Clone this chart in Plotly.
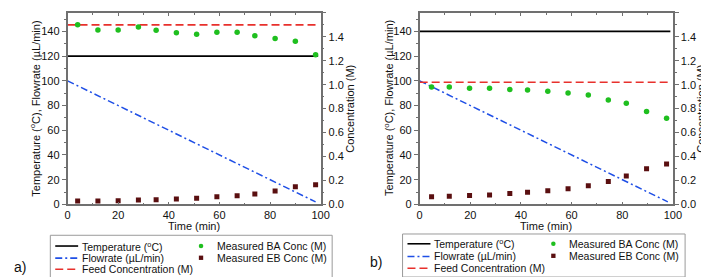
import plotly.graph_objects as go

W, H = 709, 277

# ---------------- data ----------------
time_pts_a = [4, 12, 20, 28, 35, 43, 51, 59, 67, 74, 82, 90, 98]
ba_conc_a = [1.50, 1.457, 1.457, 1.482, 1.454, 1.435, 1.422, 1.438, 1.438, 1.408, 1.386, 1.364, 1.25]
eb_conc_a = [0.028, 0.028, 0.030, 0.036, 0.038, 0.044, 0.052, 0.063, 0.071, 0.087, 0.112, 0.147, 0.163]

time_pts_b = [4.7, 11.7, 19.7, 27.6, 35.6, 42.6, 50.6, 58.6, 66.6, 74.5, 81.6, 89.6, 97.5]
ba_conc_b = [0.98, 0.98, 0.97, 0.97, 0.96, 0.956, 0.945, 0.931, 0.913, 0.872, 0.845, 0.776, 0.719]
eb_conc_b = [0.063, 0.068, 0.074, 0.079, 0.090, 0.101, 0.114, 0.131, 0.155, 0.191, 0.237, 0.297, 0.338]

temp_time = [0, 99]
temp_a = [120, 120]
temp_b = [140, 140]

flow_time = [0, 98]
flowrate = [100, 2]

feed_time = [0, 99.5]
feed_a = [1.5, 1.5]
feed_b = [1.02, 1.02]

series_names = ["Temperature (<sup>o</sup>C)", "Flowrate (\u00b5L/min)", "Feed Concentration (M)",
                "Measured BA Conc (M)", "Measured EB Conc (M)"]
axis_titles = ["Time (min)", "Temperature (<sup>o</sup>C), Flowrate (\u00b5L/min)", "Concentration (M)"]
panel_labels = ["a)", "b)"]

# ---------------- styles ----------------
FONT = "Arial, Liberation Sans, sans-serif"
C_TEMP = "#000000"
C_FLOW = "#1f4fe6"
C_FEED = "#e8302c"
C_BA = "#1fbf1f"
C_EB = "#5a0f10"
AX = "#707070"
DASH_FLOW = "7px,3px,2px,3px"
DASH_FEED = "8px,4px"


def px(x):
    return x / W


def py(y):
    return 1 - y / H


fig = go.Figure()

panels = [
    dict(x="x", yl="y", yr="y2", temp=temp_a, feed=feed_a, t=time_pts_a, ba=ba_conc_a, eb=eb_conc_a),
    dict(x="x2", yl="y3", yr="y4", temp=temp_b, feed=feed_b, t=time_pts_b, ba=ba_conc_b, eb=eb_conc_b),
]

for p in panels:
    fig.add_trace(go.Scatter(x=temp_time, y=p["temp"], mode="lines", xaxis=p["x"], yaxis=p["yl"],
                             line=dict(color=C_TEMP, width=1.6), showlegend=False, name=series_names[0]))
    fig.add_trace(go.Scatter(x=flow_time, y=flowrate, mode="lines", xaxis=p["x"], yaxis=p["yl"],
                             line=dict(color=C_FLOW, width=1.5, dash=DASH_FLOW), showlegend=False,
                             name=series_names[1]))
    fig.add_trace(go.Scatter(x=feed_time, y=p["feed"], mode="lines", xaxis=p["x"], yaxis=p["yr"],
                             line=dict(color=C_FEED, width=1.6, dash=DASH_FEED), showlegend=False,
                             name=series_names[2]))
    fig.add_trace(go.Scatter(x=p["t"], y=p["ba"], mode="markers", xaxis=p["x"], yaxis=p["yr"],
                             marker=dict(color=C_BA, size=5.5, symbol="circle"), showlegend=False,
                             name=series_names[3]))
    fig.add_trace(go.Scatter(x=p["t"], y=p["eb"], mode="markers", xaxis=p["x"], yaxis=p["yr"],
                             marker=dict(color=C_EB, size=5, symbol="square"), showlegend=False,
                             name=series_names[4]))

ydom = [py(200.7), py(5)]
tickfont = dict(family=FONT, size=11, color="#111")
titlefont = dict(family=FONT, size=11, color="#111")


def xaxis(dom, anchor):
    return dict(domain=dom, anchor=anchor, range=[0, 100], dtick=20, tick0=0,
                showline=True, linecolor=AX, linewidth=1.5, mirror="ticks",
                ticks="inside", ticklen=3, tickcolor=AX, tickwidth=1,
                minor=dict(dtick=10, ticks="inside", ticklen=2, tickcolor=AX),
                showgrid=False, zeroline=False, tickfont=tickfont)


def yleft(anchor):
    return dict(domain=ydom, anchor=anchor, range=[0, 155], dtick=20, tick0=0,
                showline=True, linecolor=AX, linewidth=1.5,
                ticks="outside", ticklen=4, tickcolor=AX, tickwidth=1,
                minor=dict(dtick=10, ticks="outside", ticklen=2, tickcolor=AX),
                showgrid=False, zeroline=False, tickfont=tickfont)


def yright(anchor, over):
    return dict(domain=ydom, anchor=anchor, overlaying=over, side="right", range=[0, 1.6],
                dtick=0.2, tick0=0, tickformat=".1f",
                showline=True, linecolor=AX, linewidth=1.5,
                ticks="outside", ticklen=4, tickcolor=AX, tickwidth=1,
                minor=dict(dtick=0.1, ticks="outside", ticklen=2, tickcolor=AX),
                showgrid=False, zeroline=False, tickfont=tickfont)


fig.update_layout(
    width=W, height=H, margin=dict(l=0, r=0, t=0, b=0),
    paper_bgcolor="white", plot_bgcolor="white", showlegend=False,
    font=dict(family=FONT, size=11, color="#111"),
    xaxis=xaxis([px(57.5), px(315)], "y"),
    yaxis=yleft("x"),
    yaxis2=yright("x", "y"),
    xaxis2=xaxis([px(415.7), px(673.3)], "y3"),
    yaxis3=yleft("x2"),
    yaxis4=yright("x2", "y3"),
)

shapes = []
annotations = []

# ---------------- axis titles ----------------
ymid = py((5 + 200.7) / 2)
title_pos = [
    dict(xt=186.3, lt=24.5, rt=344),
    dict(xt=544.5, lt=384, rt=702),
]
for tp in title_pos:
    annotations.append(dict(text=axis_titles[0], x=px(tp["xt"]), y=py(223), xref="paper", yref="paper",
                            xanchor="center", yanchor="middle", showarrow=False, font=titlefont))
    annotations.append(dict(text=axis_titles[1], x=px(tp["lt"]), y=ymid, xref="paper", yref="paper",
                            xanchor="center", yanchor="middle", showarrow=False, textangle=-90, font=titlefont))
    annotations.append(dict(text=axis_titles[2], x=px(tp["rt"]), y=ymid, xref="paper", yref="paper",
                            xanchor="center", yanchor="middle", showarrow=False, textangle=-90, font=titlefont))

# ---------------- legend boxes (drawn as layout elements) ----------------
legends = [
    dict(box=(40, 232.3, 326.7, 276), l1=(45, 68.3), t1=70, rows1=(243.3, 255.7, 267),
         m2=193.3, t2=207.7, rows2=(243.3, 255.3), label=(1, 265), lab=panel_labels[0]),
    dict(box=(398.3, 231, 685.7, 275), l1=(403.3, 426.7), t1=428.3, rows1=(241, 254, 266),
         m2=551.7, t2=565.7, rows2=(241, 253.3), label=(363, 260), lab=panel_labels[1]),
]
line_styles = [(C_TEMP, "solid"), (C_FLOW, DASH_FLOW), (C_FEED, DASH_FEED)]
legfont = dict(family=FONT, size=10.5, color="#111")
for lg in legends:
    x0, y0, x1, y1 = lg["box"]
    shapes.append(dict(type="rect", xref="paper", yref="paper", x0=px(x0), x1=px(x1), y0=py(y1), y1=py(y0),
                       line=dict(color="#9a9a9a", width=1), fillcolor="rgba(0,0,0,0)"))
    for i, (col, dash) in enumerate(line_styles):
        yy = lg["rows1"][i]
        shapes.append(dict(type="line", xref="paper", yref="paper", x0=px(lg["l1"][0]), x1=px(lg["l1"][1]),
                           y0=py(yy), y1=py(yy), line=dict(color=col, width=1.6, dash=dash)))
        annotations.append(dict(text=series_names[i], x=px(lg["t1"]), y=py(yy), xref="paper", yref="paper",
                                xanchor="left", yanchor="middle", showarrow=False, font=legfont))
    m = lg["m2"]
    yb, ye = lg["rows2"]
    shapes.append(dict(type="circle", xref="paper", yref="paper", x0=px(m - 2.3), x1=px(m + 2.3),
                       y0=py(yb + 2.3), y1=py(yb - 2.3), fillcolor=C_BA, line=dict(color=C_BA, width=0)))
    shapes.append(dict(type="rect", xref="paper", yref="paper", x0=px(m - 2.2), x1=px(m + 2.2),
                       y0=py(ye + 2.2), y1=py(ye - 2.2), fillcolor=C_EB, line=dict(color=C_EB, width=0)))
    for j, yy in enumerate(lg["rows2"]):
        annotations.append(dict(text=series_names[3 + j], x=px(lg["t2"]), y=py(yy), xref="paper", yref="paper",
                                xanchor="left", yanchor="middle", showarrow=False, font=legfont))
    annotations.append(dict(text=lg["lab"], x=px(lg["label"][0]), y=py(lg["label"][1]), xref="paper",
                            yref="paper", xanchor="left", yanchor="middle", showarrow=False,
                            font=dict(family=FONT, size=14, color="#111")))

fig.update_layout(shapes=shapes, annotations=annotations)

fig.write_html("out.html")
